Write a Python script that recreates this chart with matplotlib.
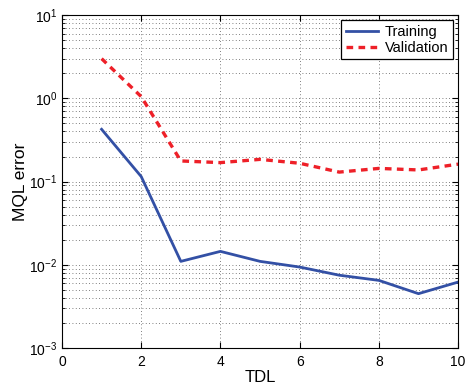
import matplotlib
matplotlib.use("Agg")
import matplotlib.pyplot as plt
from matplotlib.ticker import LogLocator, NullFormatter, MultipleLocator

plt.rcParams['font.family'] = ['Liberation Sans', 'DejaVu Sans']

tdl = [1, 2, 3, 4, 5, 6, 7, 8, 9, 10]
training = [0.425, 0.115, 0.011, 0.0145, 0.011, 0.0094, 0.0075, 0.0065, 0.0045, 0.0062]
validation = [3.0, 1.05, 0.177, 0.169, 0.185, 0.166, 0.130, 0.144, 0.138, 0.162]

fig = plt.figure(figsize=(4.66, 3.88), dpi=100)
ax = fig.add_axes([0.133, 0.103, 0.850, 0.858])

ax.plot(tdl, training, color='#3350A5', lw=2.0, label='Training')
ax.plot(tdl, validation, color='#EE2028', lw=2.4, ls=(0, (2.0, 1.6)), label='Validation')

ax.set_yscale('log')
ax.set_xlim(0, 10)
ax.set_ylim(1e-3, 1e1)
ax.xaxis.set_major_locator(MultipleLocator(2))
ax.yaxis.set_major_locator(LogLocator(base=10, numticks=10))
ax.yaxis.set_minor_locator(LogLocator(base=10, subs=range(2, 10), numticks=20))
ax.yaxis.set_minor_formatter(NullFormatter())

ax.grid(True, which='major', axis='both', ls=(0, (1, 3)), color='#555555', lw=0.6)
ax.grid(True, which='minor', axis='y', ls=(0, (1, 3)), color='#555555', lw=0.6)

ax.tick_params(which='both', direction='in', top=True, right=True, labelsize=10)
ax.tick_params(which='major', length=4)
ax.tick_params(which='minor', length=2)
ax.tick_params(axis='x', pad=5)
for s in ax.spines.values():
    s.set_linewidth(0.8)

ax.set_xlabel('TDL', fontsize=12, labelpad=1)
ax.set_ylabel('MQL error', fontsize=12.5, labelpad=1)

leg = ax.legend(loc='upper right', fontsize=10.5, fancybox=False, framealpha=1,
                edgecolor='black', handlelength=2.2, handletextpad=0.5,
                borderpad=0.3, labelspacing=0.15, borderaxespad=0.35)
leg.get_frame().set_linewidth(0.9)

fig.savefig('out.png', dpi=100)
